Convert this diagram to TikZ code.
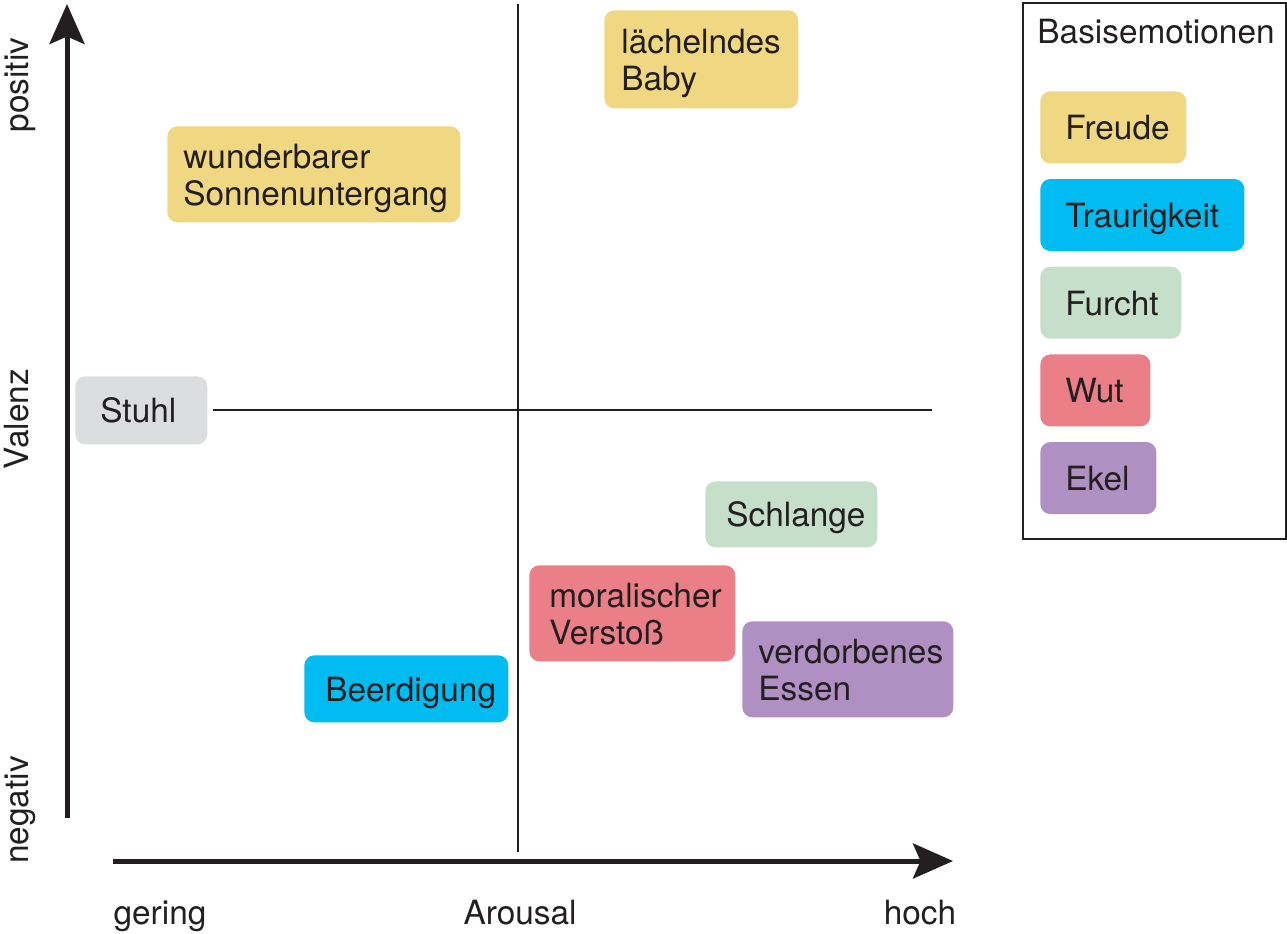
\documentclass[tikz,border=0pt]{standalone}
\usepackage{fontspec}
\setmainfont{TeX Gyre Heros}
\usetikzlibrary{positioning,arrows.meta}
\definecolor{ink}{HTML}{231F20}
\definecolor{freude}{HTML}{F0D882}
\definecolor{trauer}{HTML}{00BCF0}
\definecolor{furcht}{HTML}{C6DFCB}
\definecolor{wut}{HTML}{EA7F88}
\definecolor{ekel}{HTML}{B08FC3}
\definecolor{neutral}{HTML}{DCDDDF}

\begin{document}
\begin{tikzpicture}[
    x=0.02cm, y=-0.02cm,
    font=\fontsize{19}{21}\selectfont,
    every node/.style={text=ink},
    emo/.style={rectangle, rounded corners=0.2cm, anchor=north west, align=left, inner xsep=0.38cm, inner ysep=0pt, text height=0.5cm, text depth=0pt},
    emotwo/.style={emo, text depth=0.74cm, minimum height=1.92cm},
    key/.style={emo, inner xsep=0.5cm, minimum height=1.44cm},
    axis/.style={-{Stealth[length=0.8cm, width=0.7cm, inset=0.15cm]}, line width=0.1cm, ink},
    quad/.style={line width=0.04cm, ink}
]
\useasboundingbox (0,0) rectangle (1287,933);

% Axes
\coordinate (y_fuss) at (67,818);
\coordinate (y_spitze) at (67,4);
\coordinate (x_fuss) at (113,861);
\coordinate (x_spitze) at (953,861);
\draw[axis] (y_fuss) -- (y_spitze);
\draw[axis] (x_fuss) -- (x_spitze);

% Quadrants
\coordinate (v_oben) at (518,4);
\coordinate (v_unten) at (518,852);
\coordinate (h_links) at (213,410);
\coordinate (h_rechts) at (932,410);
\draw[quad] (v_oben) -- (v_unten);
\draw[quad] (h_links) -- (h_rechts);

% Axis labels
\node[rotate=90, anchor=base] (positiv) at (29,85) {positiv};
\node[rotate=90, anchor=base] (valenz) at (29,419) {Valenz};
\node[rotate=90, anchor=base] (negativ) at (29,810) {negativ};
\node[anchor=base] (gering) at (160,924) {gering};
\node[anchor=base] (arousal) at (520,924) {Arousal};
\node[anchor=base] (hoch) at (920,924) {hoch};

% Stimuli
\node[emotwo, fill=freude, inner xsep=0.34cm, text width=3.2cm, minimum height=1.96cm] (baby) at (604,10) {lächelndes\\Baby};
\node[emotwo, fill=freude, inner xsep=0.32cm, text width=5.22cm] (sonne) at (167,126) {wunderbarer\\Sonnenuntergang};
\node[emo, fill=neutral, inner xsep=0.5cm, text width=1.64cm, minimum height=1.36cm] (stuhl) at (75,376) {Stuhl};
\node[emo, fill=furcht, inner xsep=0.42cm, text width=2.6cm, minimum height=1.32cm] (schlange) at (705,481) {Schlange};
\node[emotwo, fill=wut, inner xsep=0.4cm, text width=3.32cm] (verstoss) at (529,565) {moralischer\\Verstoß};
\node[emotwo, fill=ekel, inner xsep=0.32cm, text width=3.58cm] (essen) at (742,621) {verdorbenes\\Essen};
\node[emo, fill=trauer, inner xsep=0.42cm, text width=3.24cm, minimum height=1.34cm] (beerdigung) at (304,655) {Beerdigung};

% Legend
\node[draw=ink, line width=0.04cm, anchor=north west, inner sep=0pt, minimum width=5.26cm, minimum height=10.72cm] (legende) at (1022,2) {};
\node[anchor=base] (titel) at (1156,43) {Basisemotionen};
\node[key, fill=freude, text width=1.92cm] (k_freude) at (1040,91) {Freude};
\node[key, fill=trauer, text width=3.08cm, below=0.3cm of k_freude.south west, anchor=north west] (k_trauer) {Traurigkeit};
\node[key, fill=furcht, text width=1.82cm, below=0.3cm of k_trauer.south west, anchor=north west] (k_furcht) {Furcht};
\node[key, fill=wut, text width=1.2cm, below=0.3cm of k_furcht.south west, anchor=north west] (k_wut) {Wut};
\node[key, fill=ekel, text width=1.32cm, below=0.3cm of k_wut.south west, anchor=north west] (k_ekel) {Ekel};

\end{tikzpicture}
\end{document}
